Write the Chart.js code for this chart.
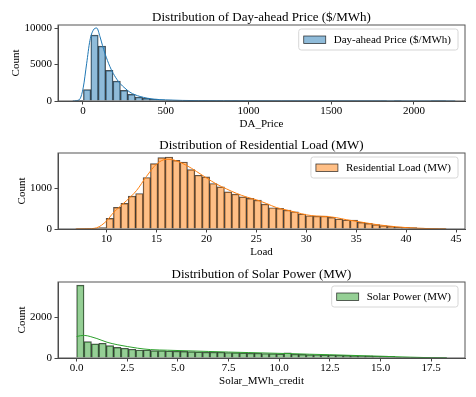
<!DOCTYPE html>
<html>
<head>
<meta charset="utf-8">
<script src="https://cdn.jsdelivr.net/npm/chart.js@4.4.0/dist/chart.umd.min.js"></script>
<style>
    body { margin: 0; background: #fff; width: 476px; height: 397px; overflow: hidden; position: relative; }
    .panel { position: absolute; left: 0; width: 476px; height: 135px; }
</style>
</head>
<body>
<div class="panel" style="top:0px"><canvas id="priceChart" width="476" height="135"></canvas></div>
<div class="panel" style="top:128px"><canvas id="loadChart" width="476" height="135"></canvas></div>
<div class="panel" style="top:257px"><canvas id="solarChart" width="476" height="135"></canvas></div>
<script>
// Day-ahead price: 50 bins
const priceBinStart = -42;
const priceBinWidth = 44.7;
const priceCounts = [30, 1550, 9030, 7520, 4200, 2730, 1450, 900, 530, 360,
    250, 170, 120, 90, 65, 50, 40, 30, 25, 20,
    16, 13, 10, 8, 7, 6, 5, 4, 4, 3,
    3, 2, 2, 2, 2, 1, 1, 1, 1, 1,
    1, 1, 0, 1, 0, 0, 0, 0, 1, 1];
const priceKdeX = [-62, -40, -18, 2, 22, 42, 62, 83, 103, 118, 133, 163, 190, 224, 254, 284, 315, 345, 390, 430, 500, 600, 700, 850, 1000, 1200, 1500, 1800, 2250];
const priceKdeY = [0, 50, 300, 1900, 5100, 8300, 9700, 10000, 8800, 7600, 6500, 4700, 3500, 2400, 1750, 1200, 850, 620, 380, 250, 150, 80, 50, 30, 20, 10, 5, 2, 0];
const priceXTicks = [0, 500, 1000, 1500, 2000];
const priceYTicks = [0, 5000, 10000];

// Residential load: 50 bins
const loadBinStart = 6.98;
const loadBinWidth = 0.741;
const loadCounts = [2, 4, 10, 33, 262, 533, 631, 811, 876, 1270,
    1614, 1760, 1776, 1695, 1654, 1466, 1327, 1286, 1122, 1040,
    917, 860, 794, 754, 713, 614, 524, 508, 467, 426,
    369, 327, 319, 319, 287, 246, 221, 221, 164, 140,
    106, 82, 66, 49, 41, 33, 25, 15, 8, 4];
const loadKdeX = [6.9, 8, 9, 10, 10.5, 11, 12, 13, 14, 15, 16, 16.5, 17, 18, 19, 20, 21, 22, 23, 24, 25, 26, 27, 28, 29, 30, 31, 32, 33, 34, 35, 36, 37, 38, 39, 40, 41, 42, 43, 44];
const loadKdeY = [0, 5, 30, 200, 350, 480, 700, 950, 1300, 1600, 1720, 1715, 1680, 1570, 1420, 1260, 1110, 990, 880, 790, 720, 630, 530, 470, 410, 350, 320, 310, 280, 230, 190, 150, 110, 80, 55, 35, 22, 12, 5, 0];
const loadXTicks = [10, 15, 20, 25, 30, 35, 40, 45];
const loadYTicks = [0, 1000];

// Solar power: 50 bins
const solarBinStart = 0;
const solarBinWidth = 0.3654;
const solarCounts = [3560, 800, 690, 720, 605, 520, 475, 425, 390, 390,
    360, 360, 340, 335, 320, 310, 300, 290, 290, 280,
    270, 260, 250, 240, 230, 220, 215, 200, 250, 190,
    175, 165, 160, 150, 145, 135, 125, 115, 110, 100,
    95, 90, 80, 30, 15, 10, 8, 5, 3, 2];
const solarKdeX = [0, 0.2, 0.4, 0.7, 1.0, 1.5, 2.0, 2.5, 3.0, 3.65, 4.5, 5.5, 6.5, 7.5, 8.5, 9.5, 10.5, 11.5, 12.5, 13.5, 14.5, 15.5, 16.5, 17.5, 18.27];
const solarKdeY = [1050, 1090, 1100, 1040, 950, 770, 650, 560, 480, 410, 380, 350, 320, 290, 265, 240, 215, 185, 160, 130, 100, 70, 40, 15, 5];
const solarXTicks = [0, 2.5, 5, 7.5, 10, 12.5, 15, 17.5];
const solarYTicks = [0, 2000];

const serif = '"Liberation Serif", "Times New Roman", serif';
const axisColor = '#444';

// Marco, título y leyenda al estilo matplotlib
const decor = {
    id: 'decor',
    afterDatasetsDraw(chart, args, opts) {
        const ctx = chart.ctx;
        const a = chart.chartArea;
        ctx.save();
        ctx.strokeStyle = '#555';
        ctx.lineWidth = 1;
        ctx.strokeRect(a.left, a.top, a.right - a.left, a.bottom - a.top);

        ctx.fillStyle = '#000';
        ctx.font = '13px ' + serif;
        ctx.textAlign = 'center';
        ctx.textBaseline = 'alphabetic';
        ctx.fillText(opts.title, (a.left + a.right) / 2, a.top - 4.5);

        ctx.font = '11px ' + serif;
        const tw = ctx.measureText(opts.label).width;
        const bw = 5 + 22 + 8 + tw + 7;
        const bh = 21;
        const bx = a.right - 7 - bw;
        const by = a.top + 4;
        ctx.beginPath();
        ctx.roundRect(bx, by, bw, bh, 2.5);
        ctx.fillStyle = 'rgba(255,255,255,0.8)';
        ctx.fill();
        ctx.strokeStyle = '#d6d6d6';
        ctx.stroke();

        ctx.fillStyle = opts.fill;
        ctx.fillRect(bx + 5, by + bh / 2 - 3.5, 22, 7.5);
        ctx.strokeStyle = 'rgba(0,0,0,0.75)';
        ctx.lineWidth = 0.8;
        ctx.strokeRect(bx + 5, by + bh / 2 - 3.5, 22, 7.5);

        ctx.fillStyle = '#000';
        ctx.textAlign = 'left';
        ctx.textBaseline = 'middle';
        ctx.fillText(opts.label, bx + 35, by + bh / 2 + 0.5);
        ctx.restore();
    }
};

function histChart(id, cfg) {
    const bars = cfg.counts.map((c, i) => ({ x: cfg.binStart + (i + 0.5) * cfg.binWidth, y: c }));
    const kde = cfg.kdeX.map((x, i) => ({ x: x, y: cfg.kdeY[i] }));
    return new Chart(document.getElementById(id), {
        type: 'bar',
        data: {
            datasets: [{
                type: 'line',
                data: kde,
                borderColor: cfg.line,
                borderWidth: 1,
                pointRadius: 0,
                cubicInterpolationMode: 'monotone',
                order: 0
            }, {
                type: 'bar',
                data: bars,
                backgroundColor: cfg.fill,
                borderColor: 'rgba(0,0,0,0.7)',
                borderWidth: 0.75,
                barPercentage: 1,
                categoryPercentage: 1,
                order: 1
            }]
        },
        options: {
            responsive: false,
            animation: false,
            layout: { padding: { left: 0, right: 11, top: 25, bottom: 0 } },
            plugins: {
                legend: { display: false },
                tooltip: { enabled: false },
                decor: { title: cfg.title, label: cfg.label, fill: cfg.fill }
            },
            scales: {
                x: {
                    type: 'linear',
                    offset: false,
                    min: cfg.xMin,
                    max: cfg.xMax,
                    afterBuildTicks: s => { s.ticks = cfg.xTicks.map(v => ({ value: v })); },
                    afterFit: s => { s.height = 34; },
                    ticks: {
                        color: '#000',
                        padding: 0,
                        maxRotation: 0,
                        autoSkip: false,
                        font: { family: serif, size: 11 },
                        callback: v => cfg.xFmt ? v.toFixed(1) : String(v)
                    },
                    grid: { drawOnChartArea: false, drawTicks: true, tickLength: 3.5, color: axisColor, offset: false },
                    border: { display: true, color: axisColor },
                    title: {
                        display: true,
                        text: cfg.xLabel,
                        color: '#000',
                        font: { family: serif, size: 11 },
                        padding: { top: 0, bottom: 4.4 }
                    }
                },
                y: {
                    min: 0,
                    max: cfg.yMax,
                    afterBuildTicks: s => { s.ticks = cfg.yTicks.map(v => ({ value: v })); },
                    afterFit: s => { s.width = 58; },
                    ticks: {
                        color: '#000',
                        padding: 2.5,
                        autoSkip: false,
                        font: { family: serif, size: 11 },
                        callback: v => String(v)
                    },
                    grid: { drawOnChartArea: false, drawTicks: true, tickLength: 3.5, color: axisColor },
                    border: { display: true, color: axisColor },
                    title: {
                        display: true,
                        text: 'Count',
                        color: '#000',
                        font: { family: serif, size: 11 },
                        padding: { top: cfg.yLabelPad, bottom: 0 }
                    }
                }
            }
        },
        plugins: [decor]
    });
}

histChart('priceChart', {
    title: 'Distribution of Day-ahead Price ($/MWh)',
    label: 'Day-ahead Price ($/MWh)',
    xLabel: 'DA_Price',
    fill: 'rgba(31,119,180,0.5)',
    line: '#1f77b4',
    binStart: priceBinStart, binWidth: priceBinWidth, counts: priceCounts,
    kdeX: priceKdeX, kdeY: priceKdeY,
    xTicks: priceXTicks, yTicks: priceYTicks,
    xMin: -151, xMax: 2309, yMax: 10414, yLabelPad: 10
});

histChart('loadChart', {
    title: 'Distribution of Residential Load (MW)',
    label: 'Residential Load (MW)',
    xLabel: 'Load',
    fill: 'rgba(255,127,14,0.5)',
    line: '#ff7f0e',
    binStart: loadBinStart, binWidth: loadBinWidth, counts: loadCounts,
    kdeX: loadKdeX, kdeY: loadKdeY,
    xTicks: loadXTicks, yTicks: loadYTicks,
    xMin: 5.13, xMax: 45.9, yMax: 1875, yLabelPad: 15.5
});

histChart('solarChart', {
    title: 'Distribution of Solar Power (MW)',
    label: 'Solar Power (MW)',
    xLabel: 'Solar_MWh_credit',
    fill: 'rgba(44,160,44,0.5)',
    line: '#2ca02c',
    binStart: solarBinStart, binWidth: solarBinWidth, counts: solarCounts,
    kdeX: solarKdeX, kdeY: solarKdeY,
    xTicks: solarXTicks, yTicks: solarYTicks, xFmt: true,
    xMin: -0.92, xMax: 19.17, yMax: 3709, yLabelPad: 15.5
});
</script>
</body>
</html>
